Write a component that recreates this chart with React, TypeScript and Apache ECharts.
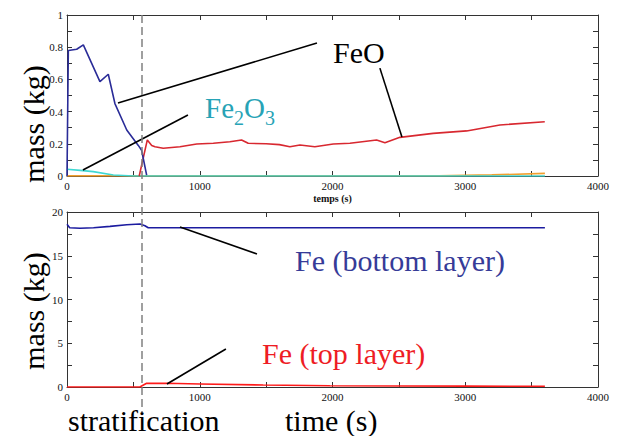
import React, { useEffect, useRef } from "react";
import * as echarts from "echarts";

// ---- data (time in s, mass in kg) ----
const feoBottomLayer: number[][] = [
  [0, 0], [10, 0.78], [73, 0.787], [123, 0.814], [248, 0.586], [311, 0.632],
  [361, 0.45], [450, 0.286], [537, 0.19], [562, 0.16], [600, 0.005],
];
const feoTopLayer: number[][] = [
  [544, 0], [605, 0.224], [638, 0.19], [663, 0.182], [725, 0.172], [851, 0.182],
  [977, 0.199], [1102, 0.203], [1227, 0.213], [1315, 0.224], [1365, 0.203],
  [1500, 0.2], [1600, 0.195], [1679, 0.182], [1755, 0.193], [1867, 0.182],
  [2006, 0.199], [2131, 0.203], [2332, 0.224], [2395, 0.207], [2508, 0.24],
  [2758, 0.265], [3010, 0.28], [3261, 0.317], [3599, 0.337],
];
const fe2o3: number[][] = [
  [0, 0.042], [100, 0.035], [198, 0.027], [349, 0.006], [500, 0], [3600, 0],
];
const otherSpecies: number[][] = [
  [0, 0.001], [2800, 0.002], [3200, 0.007], [3600, 0.016],
];
const feBottom: number[][] = [
  [0, 18.6], [20, 18.2], [98, 18.14], [200, 18.2], [324, 18.36], [450, 18.55],
  [550, 18.63], [587, 18.43], [612, 18.2], [3600, 18.2],
];
const feTop: number[][] = [
  [0, 0], [550, 0], [562, 0.11], [600, 0.42], [750, 0.42], [1000, 0.35],
  [1478, 0.23], [1980, 0.15], [2500, 0.12], [3000, 0.1], [3600, 0.08],
];
const stratificationTime = 565;

// leader lines for annotations (data coordinates)
const leadersTop: number[][][] = [
  [[384, 0.453], [1883, 0.826]],
  [[2357, 0.67], [2523, 0.242]],
  [[120, 0.037], [911, 0.379]],
];
const leadersBottom: number[][][] = [
  [[851, 18.29], [1431, 15.2]],
  [[753, 0.34], [1197, 4.34]],
];

const SERIF = "Liberation Serif";
const AXIS_COLOR = "#333";

const fmt = (v: number) => String(v);

function xAxisDef(gridIndex: number, position: "top" | "bottom", labels: boolean, name?: string) {
  return {
    type: "value",
    gridIndex,
    position,
    min: 0,
    max: 4000,
    interval: 1000,
    axisLine: { show: true, onZero: false, lineStyle: { color: AXIS_COLOR, width: 1 } },
    axisTick: { show: true, inside: true, length: 5, lineStyle: { color: AXIS_COLOR } },
    minorTick: { show: true, splitNumber: 2, length: 5, lineStyle: { color: AXIS_COLOR } },
    splitLine: { show: false },
    axisLabel: {
      show: labels,
      fontFamily: SERIF,
      fontSize: 11,
      color: "#111",
      margin: 4,
      formatter: fmt,
    },
    name: name || "",
    nameLocation: "middle",
    nameGap: 17,
    nameTextStyle: { fontFamily: SERIF, fontSize: 10, fontWeight: "bold", color: "#111" },
  };
}

function yAxisDef(gridIndex: number, position: "left" | "right", labels: boolean, max: number, interval: number) {
  return {
    type: "value",
    gridIndex,
    position,
    min: 0,
    max,
    interval,
    axisLine: { show: true, onZero: false, lineStyle: { color: AXIS_COLOR, width: 1 } },
    axisTick: { show: true, inside: true, length: 5, lineStyle: { color: AXIS_COLOR } },
    minorTick: { show: true, splitNumber: 2, length: 5, lineStyle: { color: AXIS_COLOR } },
    splitLine: { show: false },
    axisLabel: {
      show: labels,
      fontFamily: SERIF,
      fontSize: 11,
      color: "#111",
      margin: 4,
      formatter: fmt,
    },
  };
}

function leaderMarkLine(segments: number[][][]) {
  return {
    silent: true,
    symbol: ["none", "none"],
    label: { show: false },
    lineStyle: { color: "#000", width: 1.6, type: "solid" },
    data: segments.map((s) => [{ coord: s[0] }, { coord: s[1] }]),
  };
}

function lineSeries(data: number[][], color: string, gridIdx: number, extra: any = {}) {
  return {
    type: "line",
    data,
    xAxisIndex: gridIdx * 2,
    yAxisIndex: gridIdx * 2,
    showSymbol: false,
    symbol: "none",
    lineStyle: { color, width: 1.6 },
    itemStyle: { color },
    ...extra,
  };
}

function bigText(text: string, x: number, y: number, fill: string, extra: any = {}) {
  return {
    type: "text",
    x,
    y,
    ...extra,
    style: {
      text,
      fontFamily: SERIF,
      fontSize: 30,
      fill,
      align: extra.rotation ? "center" : "left",
      verticalAlign: "middle",
    },
  };
}

export default function App() {
  const ref = useRef<HTMLDivElement>(null);

  useEffect(() => {
    if (!ref.current) return;
    const chart = echarts.init(ref.current, null, { renderer: "svg" });
    const option: any = {
      animation: false,
      backgroundColor: "#fff",
      textStyle: { fontFamily: SERIF },
      grid: [
        { left: 67, top: 15, width: 531, height: 161 },
        { left: 67, top: 212, width: 531, height: 175 },
      ],
      xAxis: [
        xAxisDef(0, "bottom", true, "temps (s)"),
        xAxisDef(0, "top", false),
        xAxisDef(1, "bottom", true),
        xAxisDef(1, "top", false),
      ],
      yAxis: [
        yAxisDef(0, "left", true, 1, 0.2),
        yAxisDef(0, "right", false, 1, 0.2),
        yAxisDef(1, "left", true, 20, 5),
        yAxisDef(1, "right", false, 20, 5),
      ],
      series: [
        lineSeries(otherSpecies, "#f0a030", 0),
        lineSeries(fe2o3, "#3fd8d2", 0),
        lineSeries(feoTopLayer, "#d82830", 0),
        lineSeries(feoBottomLayer, "#2a2c98", 0, { markLine: leaderMarkLine(leadersTop) }),
        lineSeries(feTop, "#ff1a1a", 1),
        lineSeries(feBottom, "#1c1ca0", 1, { markLine: leaderMarkLine(leadersBottom) }),
      ],
    };
    chart.setOption(option);

    const sx = chart.convertToPixel({ xAxisIndex: 0 }, stratificationTime) as number;
    const topY = chart.convertToPixel({ yAxisIndex: 0 }, 1) as number;

    chart.setOption({
      graphic: [
        {
          type: "line",
          shape: { x1: sx, y1: topY, x2: sx, y2: 412 },
          style: { stroke: "#808080", lineWidth: 1.5, lineDash: [8, 4] },
          z: 50,
        },
        bigText("mass (kg)", 33, 124, "#000", { rotation: Math.PI / 2 }),
        bigText("mass (kg)", 33, 311, "#000", { rotation: Math.PI / 2 }),
        bigText("FeO", 333, 52, "#000"),
        {
          type: "text",
          x: 205,
          y: 106,
          style: {
            text: "{n|Fe}{s|2}{n|O}{s|3}",
            align: "left",
            verticalAlign: "middle",
            rich: {
              n: { fontFamily: SERIF, fontSize: 29, fill: "#27a3b6", lineHeight: 32, verticalAlign: "bottom" },
              s: { fontFamily: SERIF, fontSize: 20, fill: "#27a3b6", lineHeight: 32, verticalAlign: "bottom", padding: [0, 0, -6, 0] },
            },
          },
        },
        bigText("Fe (bottom layer)", 295, 260, "#363b98"),
        bigText("Fe (top layer)", 262, 353, "#ee1c24"),
        bigText("stratification", 68, 420, "#000"),
        bigText("time (s)", 285, 420, "#000"),
      ],
    });

    return () => chart.dispose();
  }, []);

  return (
    <div
      ref={ref}
      style={{ position: "fixed", left: 0, top: 0, width: 621, height: 436, background: "#fff" }}
    />
  );
}
